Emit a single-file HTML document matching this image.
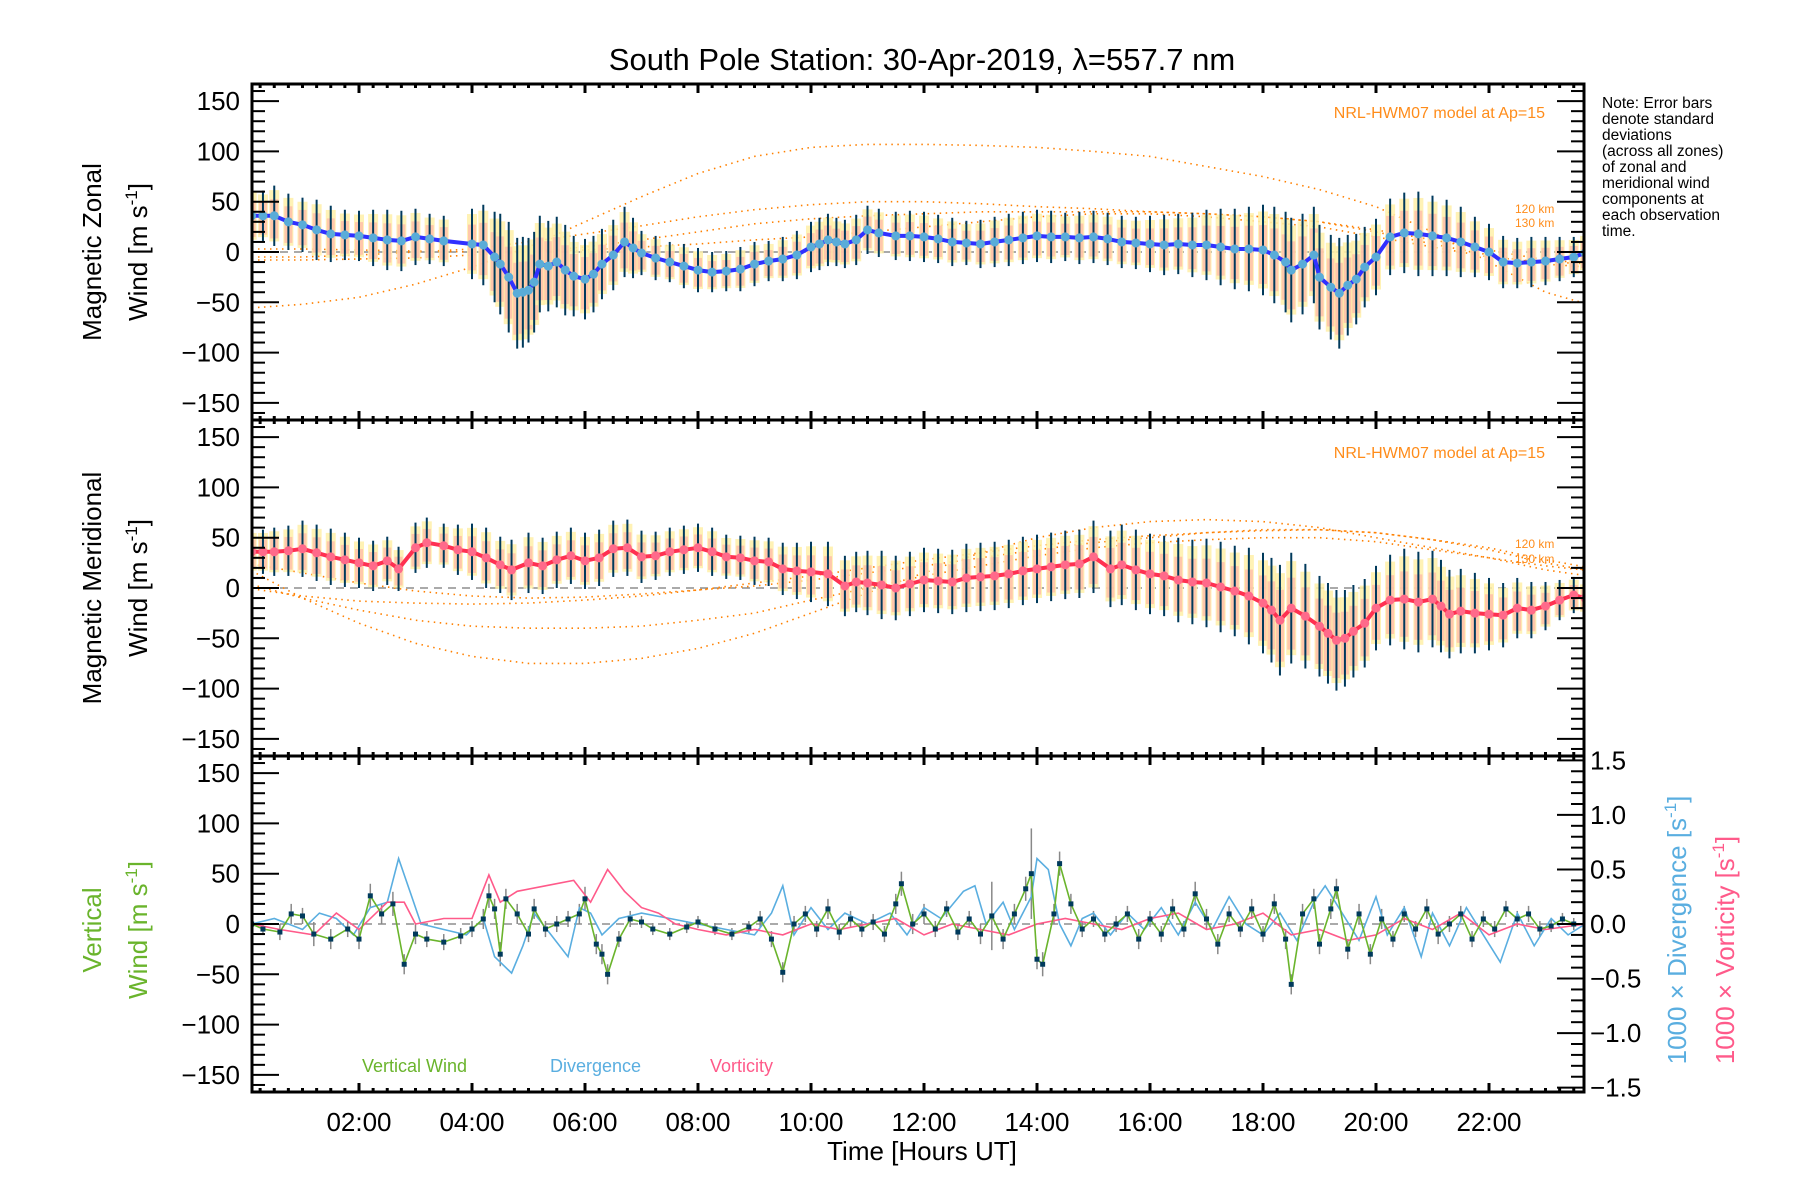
<!DOCTYPE html>
<html><head><meta charset="utf-8"><title>South Pole Station winds</title>
<style>
html,body{margin:0;padding:0;background:#fff;}
svg{display:block;font-family:"Liberation Sans","DejaVu Sans",sans-serif;}
</style></head>
<body>
<svg id="chart" width="1800" height="1200" viewBox="0 0 1800 1200" xmlns="http://www.w3.org/2000/svg">
<rect x="0" y="0" width="1800" height="1200" fill="#fff"/>
<text x="922" y="70" font-size="31" text-anchor="middle">South Pole Station: 30-Apr-2019, λ=557.7 nm</text>
<g id="layer"></g>
<g font-size="15.5" fill="#000">
<text x="1602" y="108">Note: Error bars</text>
<text x="1602" y="124">denote standard</text>
<text x="1602" y="140">deviations</text>
<text x="1602" y="156">(across all zones)</text>
<text x="1602" y="172">of zonal and</text>
<text x="1602" y="188">meridional wind</text>
<text x="1602" y="204">components at</text>
<text x="1602" y="220">each observation</text>
<text x="1602" y="236">time.</text>
</g>
</svg>
<script>
// ---------- data ----------
const xTickLabels = ["02:00","04:00","06:00","08:00","10:00","12:00","14:00","16:00","18:00","20:00","22:00"];
const xTickHours = [2,4,6,8,10,12,14,16,18,20,22];
const yTickLabels = [150,100,50,0,-50,-100,-150];
const rTickLabels = [1.5,1.0,0.5,0.0,-0.5,-1.0,-1.5];

const zonalTimes = [0.1,0.3,0.5,0.75,1,1.25,1.5,1.75,2,2.25,2.5,2.75,3,3.25,3.5,4,4.2,4.4,4.5,4.65,4.8,4.9,5.0,5.1,5.2,5.35,5.5,5.65,5.8,6.0,6.15,6.3,6.5,6.7,6.85,7,7.25,7.5,7.75,8,8.25,8.5,8.75,9,9.25,9.5,9.75,10,10.15,10.3,10.45,10.6,10.8,11,11.2,11.5,11.75,12,12.25,12.5,12.75,13,13.25,13.5,13.75,14,14.25,14.5,14.75,15,15.25,15.5,15.75,16,16.25,16.5,16.75,17,17.25,17.5,17.75,18,18.2,18.4,18.5,18.7,18.9,19,19.2,19.35,19.5,19.65,19.8,20,20.25,20.5,20.75,21,21.25,21.5,21.75,22,22.25,22.5,22.75,23,23.25,23.5,23.7];
const zonalMean = [36,36,36,30,27,22,18,17,16,14,12,11,15,13,11,8,7,-5,-12,-25,-41,-40,-38,-30,-12,-14,-10,-18,-24,-27,-22,-12,-3,10,4,-1,-6,-10,-14,-18,-20,-19,-17,-12,-9,-7,-3,5,8,12,10,8,12,22,19,16,16,15,13,10,9,8,10,12,14,16,15,15,14,15,13,10,9,8,7,8,7,7,5,3,3,2,-3,-10,-18,-12,-3,-25,-35,-41,-33,-27,-15,-5,15,19,18,16,14,10,5,0,-10,-11,-10,-9,-7,-5,-1];
const zonalStd = [28,25,30,28,27,30,28,25,25,28,30,30,28,25,25,35,40,45,50,55,55,55,52,50,48,45,45,45,40,40,38,35,35,35,30,22,22,20,22,22,20,20,22,22,20,22,24,25,26,26,24,24,25,24,24,24,25,25,24,24,22,24,25,26,26,26,26,24,26,26,26,26,26,28,30,30,32,35,38,40,42,45,48,50,52,50,48,52,52,55,50,45,40,38,38,40,42,40,38,35,30,28,26,25,25,24,22,20,20,18];

const meridTimes = [0.1,0.3,0.5,0.75,1,1.25,1.5,1.75,2,2.25,2.5,2.7,3,3.2,3.5,3.75,4,4.25,4.5,4.7,5,5.25,5.5,5.75,6,6.25,6.5,6.75,7,7.25,7.5,7.75,8,8.25,8.5,8.75,9,9.25,9.5,9.75,10,10.3,10.6,10.8,11,11.25,11.5,11.75,12,12.25,12.5,12.75,13,13.25,13.5,13.75,14,14.25,14.5,14.75,15,15.3,15.5,15.75,16,16.25,16.5,16.75,17,17.25,17.5,17.75,18,18.15,18.3,18.5,18.75,19,19.15,19.3,19.45,19.6,19.8,20,20.25,20.5,20.75,21,21.15,21.3,21.5,21.75,22,22.25,22.5,22.75,23,23.25,23.5,23.7];
const meridMean = [36,36,36,37,39,35,31,28,25,22,27,19,40,45,42,38,36,30,23,18,25,22,28,32,27,30,39,40,31,32,36,38,40,36,31,30,27,26,19,17,16,14,2,6,5,3,0,4,8,7,6,10,11,12,14,17,19,21,23,24,31,19,23,18,14,12,8,6,5,1,-3,-8,-15,-22,-32,-20,-28,-38,-45,-52,-50,-43,-35,-20,-12,-11,-14,-11,-18,-26,-23,-25,-26,-27,-20,-22,-18,-12,-7,-10,-11];
const meridStd = [22,22,24,25,28,28,28,27,25,25,24,22,25,25,22,25,28,30,28,30,30,28,28,28,28,28,28,28,26,24,24,24,24,24,22,22,24,24,26,28,30,32,30,30,32,34,32,32,32,32,32,34,34,34,34,34,34,34,34,34,36,38,40,40,40,40,42,42,44,45,45,48,50,52,55,55,52,50,50,50,48,46,44,42,45,50,50,48,46,44,42,40,36,32,30,28,24,20,18,16,14];

const vertTimes = [0.1,0.3,0.6,0.8,1.0,1.2,1.5,1.8,2.0,2.2,2.4,2.6,2.8,3.0,3.2,3.5,3.8,4.0,4.2,4.3,4.4,4.5,4.6,4.8,5.0,5.1,5.3,5.5,5.7,5.9,6.0,6.2,6.3,6.4,6.6,6.8,7.0,7.2,7.5,7.8,8.0,8.3,8.6,8.9,9.1,9.3,9.5,9.7,9.9,10.1,10.3,10.5,10.7,10.9,11.1,11.3,11.5,11.6,11.8,12.0,12.2,12.4,12.6,12.8,13.0,13.2,13.4,13.6,13.8,13.9,14.0,14.1,14.3,14.4,14.6,14.8,15.0,15.2,15.4,15.6,15.8,16.0,16.2,16.4,16.6,16.8,17.0,17.2,17.4,17.6,17.8,18.0,18.2,18.4,18.5,18.7,18.9,19.0,19.2,19.3,19.5,19.7,19.9,20.1,20.3,20.5,20.7,20.9,21.1,21.3,21.5,21.7,21.9,22.1,22.3,22.5,22.7,22.9,23.1,23.3,23.5,23.7];
const vertWind = [0,-5,-8,10,8,-10,-15,-5,-15,28,10,20,-40,-10,-15,-18,-12,-5,5,28,15,-30,25,10,-10,15,-5,0,5,10,25,-20,-30,-50,-15,5,2,-5,-10,-3,2,-5,-10,-3,5,-15,-48,0,10,-5,15,-8,5,-5,2,-10,20,40,0,10,-5,15,-8,5,-10,8,-15,10,35,50,-35,-40,10,60,20,-5,5,-10,0,10,-15,5,-10,15,-5,30,5,-20,10,-5,15,-10,20,-15,-60,10,25,-20,15,35,-25,10,-30,5,-15,10,-5,15,-10,0,10,-15,5,-5,15,5,10,-5,-2,5,0,0];
const vertErr = [6,6,8,10,8,12,10,8,10,12,10,12,10,10,8,8,8,8,10,12,10,12,10,10,8,10,8,8,8,10,12,10,10,10,8,8,6,6,6,6,6,6,6,6,8,8,10,8,8,8,10,8,8,8,8,8,10,12,10,10,8,8,8,8,10,34,10,10,12,45,10,12,10,12,10,8,8,8,8,8,10,8,8,10,8,12,10,10,8,8,10,8,10,10,10,10,10,10,10,10,10,10,10,10,8,8,8,10,10,8,8,8,8,8,8,8,8,8,6,6,6,6];

const divTimes = [0.1,0.5,1.0,1.3,1.6,1.9,2.2,2.5,2.7,2.9,3.1,3.5,3.9,4.2,4.4,4.7,4.9,5.1,5.4,5.7,5.9,6.1,6.3,6.6,7.0,7.5,8.0,8.5,9.0,9.3,9.5,9.7,10.0,10.3,10.6,11.0,11.4,11.7,12.0,12.3,12.7,12.9,13.1,13.4,13.6,13.9,14.0,14.2,14.4,14.6,14.8,15.0,15.3,15.6,15.9,16.2,16.5,16.8,17.1,17.4,17.7,18.0,18.3,18.6,18.9,19.1,19.4,19.7,20.0,20.2,20.5,20.8,21.0,21.3,21.6,21.9,22.2,22.5,22.8,23.1,23.4,23.7];
const divergence = [0,0.05,-0.05,0.1,0.05,-0.1,0.15,0.2,0.6,0.3,0,-0.05,-0.1,0.05,-0.3,-0.45,-0.2,0.1,-0.1,-0.3,0.15,0.1,-0.1,0.05,0.1,0.05,0,-0.05,-0.1,0.1,0.35,-0.1,0.15,-0.05,0.1,0,0.1,-0.1,0.15,0.05,0.3,0.35,0,0.2,-0.05,0.25,0.6,0.5,0,-0.2,0.05,0.1,-0.1,0.1,-0.05,0.15,-0.1,0.2,-0.05,0.25,0,-0.1,0.1,-0.15,0.2,0.35,0.1,-0.15,0.25,-0.1,0.15,-0.3,0.1,-0.2,0.15,-0.1,-0.35,0.1,-0.2,0.05,-0.1,0];

const vortTimes = [0.1,0.6,1.2,1.6,2.0,2.5,2.8,3.0,3.5,4.0,4.3,4.5,4.8,5.3,5.8,6.1,6.4,6.7,7.0,7.3,7.6,8.0,8.5,9.0,9.5,10.0,10.5,11.0,11.5,12.0,12.5,13.0,13.5,14.0,14.5,15.0,15.5,16.0,16.5,17.0,17.5,18.0,18.5,19.0,19.5,20.0,20.5,21.0,21.5,22.0,22.5,23.0,23.7];
const vorticity = [0,-0.05,-0.1,0.1,-0.05,0.2,0.2,0,0.05,0.05,0.45,0.2,0.3,0.35,0.4,0.2,0.5,0.3,0.15,0.1,0,-0.05,-0.1,-0.05,-0.1,0,-0.05,0,0.05,-0.1,0,-0.05,-0.1,0,0.05,0,-0.05,0.05,0.1,-0.05,0,0.1,-0.1,-0.05,-0.15,-0.1,0.05,-0.05,0.1,-0.1,0,-0.05,0];

// HWM07 model curves (hourly)
const modelHours = [0,1,2,3,4,5,6,7,8,9,10,11,12,13,14,15,16,17,18,19,20,21,22,23,24];
const zonalModelA = [-56,-52,-45,-32,-15,5,30,55,78,95,104,107,107,106,104,100,95,85,75,62,45,20,-10,-40,-56];
const zonalModelB = [-5,-5,-3,0,3,10,18,26,35,42,47,50,50,48,45,43,40,38,35,30,22,12,2,-8,-12];
const zonalModelC = [-8,-8,-7,-6,-3,0,5,12,20,28,33,36,38,40,40,40,40,38,35,30,20,8,-3,-12,-16];
const zonalModelD = [3,3,2,1,0,0,2,5,8,12,15,20,25,30,35,38,38,35,30,25,15,5,-5,-10,-12];
const meridModelA = [20,-10,-35,-55,-68,-75,-75,-70,-60,-45,-25,-5,15,35,50,60,66,68,66,60,50,40,30,18,10];
const meridModelB = [5,-10,-22,-32,-38,-40,-40,-38,-32,-25,-12,0,12,22,32,40,45,48,50,50,46,38,30,22,16];
const meridModelC = [0,-8,-13,-15,-16,-15,-12,-8,-2,5,12,20,28,35,42,48,52,55,58,58,55,48,40,28,18];
const meridModelD = [25,15,5,-3,-8,-10,-9,-6,-2,2,8,15,22,30,38,45,50,55,57,58,55,48,38,25,15];

// ---------- geometry ----------
const X0 = 252, X1 = 1584;
const HPX = 56.5, H0 = 246;
function xs(h){ return H0 + h*HPX; }
const panels = [{top:84,bot:420},{top:420,bot:756},{top:756,bot:1092}];
function ysFor(p){ const mid=(p.top+p.bot)/2, k=(p.bot-p.top)/334; return v => mid - v*k; }
function yrFor(p){ const mid=(p.top+p.bot)/2, k=(p.bot-p.top)/3.08; return v => mid - v*k; }

const NS = "http://www.w3.org/2000/svg";
const layer = document.getElementById('layer');
function el(tag, attrs, parent){ const e=document.createElementNS(NS,tag); for(const k in attrs) e.setAttribute(k,attrs[k]); (parent||layer).appendChild(e); return e; }
function pathFrom(ts, vs, y){ return ts.map((t,i)=>(i?'L':'M')+xs(t).toFixed(1)+' '+y(vs[i]).toFixed(1)).join(' '); }

const defs = el('defs',{});
panels.forEach((p,i)=>{ const c=el('clipPath',{id:'clip'+i},defs); el('rect',{x:X0,y:p.top,width:X1-X0,height:p.bot-p.top},c); });

function modelCurves(g, y, arrs){
  arrs.forEach((arr,i)=>{
    const m = el('path',{d:pathFrom(modelHours,arr,y),fill:'none',stroke:'#ff8000','stroke-width':1.6,'stroke-dasharray':'1.5 4.5'},g);
    
    
  });
}
function zeroLine(g,y){
  const z = el('line',{x1:X0,x2:X1,y1:y(0),y2:y(0),stroke:'#777','stroke-width':1.3,'stroke-dasharray':'8 6'},g);
  
  
}
function windPanel(idx, times, mean, std, lineColor, dotColor, models){
  const p = panels[idx], y = ysFor(p);
  const g = el('g',{'clip-path':'url(#clip'+idx+')'});
  
  
  zeroLine(g,y);
  modelCurves(g,y,models);
  times.forEach((t,i)=>{
    const x=xs(t);
    const b1 = el('rect',{x:x-5,y:y(mean[i]+std[i]*0.85),width:10,height:y(mean[i]-std[i]*0.85)-y(mean[i]+std[i]*0.85),fill:'#fff0a8',opacity:0.85},g);
    
    
    const b2 = el('rect',{x:x-4,y:y(mean[i]+std[i]*0.55),width:8,height:y(mean[i]-std[i]*0.75)-y(mean[i]+std[i]*0.55),fill:'#ffb8a8',opacity:0.75},g);
    
    
  });
  times.forEach((t,i)=>{
    const e = el('line',{x1:xs(t),x2:xs(t),y1:y(mean[i]+std[i]),y2:y(mean[i]-std[i]),stroke:'#003a5c','stroke-width':2},g);
    
    
  });
  const ln = el('path',{d:pathFrom(times,mean,y),fill:'none',stroke:lineColor,'stroke-width':4,'stroke-linejoin':'round'},g);
  
  
  times.forEach((t,i)=>{
    const c = el('circle',{cx:xs(t),cy:y(mean[i]),r:4.5,fill:dotColor},g);
    
    
  });
}
windPanel(0, zonalTimes, zonalMean, zonalStd, '#3030ff', '#5aacd8', [zonalModelA,zonalModelB,zonalModelC,zonalModelD]);
windPanel(1, meridTimes, meridMean, meridStd, '#ff3050', '#ff6a8a', [meridModelA,meridModelB,meridModelC,meridModelD]);

(function(){
  const p=panels[2], y=ysFor(p), yr=yrFor(p);
  const g = el('g',{'clip-path':'url(#clip2)'});
  
  
  zeroLine(g,y);
  vertTimes.forEach((t,i)=>{
    const e = el('line',{x1:xs(t),x2:xs(t),y1:y(vertWind[i]+vertErr[i]),y2:y(vertWind[i]-vertErr[i]),stroke:'#888','stroke-width':1.5},g);
    
    
  });
  const dv = el('path',{d:pathFrom(divTimes,divergence,yr),fill:'none',stroke:'#5aaee0','stroke-width':1.6},g);
  
  
  const vo = el('path',{d:pathFrom(vortTimes,vorticity,yr),fill:'none',stroke:'#ff5a8a','stroke-width':1.6},g);
  
  
  const vw = el('path',{d:pathFrom(vertTimes,vertWind,y),fill:'none',stroke:'#6ab42c','stroke-width':1.6},g);
  
  
  vertTimes.forEach((t,i)=>{
    const r = el('rect',{x:xs(t)-2.5,y:y(vertWind[i])-2.5,width:5,height:5,fill:'#003a5c'},g);
    
    
  });
})();

panels.forEach((p,idx)=>{
  const y = ysFor(p);
  const g = el('g',{});
  
  
  el('rect',{x:X0,y:p.top,width:X1-X0,height:p.bot-p.top,fill:'none',stroke:'#000','stroke-width':3},g);
  for(let v=-160; v<=160; v+=10){
    const major = v%50===0, yy=y(v), L = major?27:13;
    el('line',{x1:X0,x2:X0+L,y1:yy,y2:yy,stroke:'#000','stroke-width':2},g);
    if(idx<2) el('line',{x1:X1,x2:X1-L,y1:yy,y2:yy,stroke:'#000','stroke-width':2},g);
  }
  yTickLabels.forEach(v=>{
    const t = el('text',{x:X0-12,y:y(v)+9,'font-size':26,'text-anchor':'end'},g);
    t.textContent = v<0 ? '\u2212'+Math.abs(v) : String(v);
    
    
  });
  for(let m=1; m<=94; m++){
    const h=m*0.25, xx=xs(h);
    if(xx<=X0+2||xx>=X1-2) continue;
    const major = m%8===0, L = major?9:4;
    el('line',{x1:xx,x2:xx,y1:p.bot,y2:p.bot-L,stroke:'#000','stroke-width':3},g);
    el('line',{x1:xx,x2:xx,y1:p.top,y2:p.top+L,stroke:'#000','stroke-width':3},g);
  }
});
(function(){
  const p=panels[2], yr=yrFor(p);
  const g = el('g',{});
  
  
  for(let v=-15; v<=15; v+=1){
    const yy=yr(v/10), major=v%5===0, L=major?27:13;
    el('line',{x1:X1,x2:X1-L,y1:yy,y2:yy,stroke:'#000','stroke-width':2},g);
  }
  rTickLabels.forEach(v=>{
    const t = el('text',{x:X1+6,y:yr(v)+9,'font-size':26},g);
    t.textContent = v<0 ? '\u2212'+Math.abs(v).toFixed(1) : v.toFixed(1);
    
    
  });
})();
xTickHours.forEach((h,i)=>{
  const t = el('text',{x:xs(h),y:1131,'font-size':26,'text-anchor':'middle'});
  t.textContent = xTickLabels[i];
  
  
});
</script>
<script>
(function(){
const svg=document.getElementById('chart');
svg.insertAdjacentHTML('beforeend',`
<text x="922" y="1160" font-size="26" text-anchor="middle">Time [Hours UT]</text>
<text transform="translate(101,252) rotate(-90)" font-size="26" text-anchor="middle">Magnetic Zonal</text>
<text transform="translate(147,252) rotate(-90)" font-size="26" text-anchor="middle">Wind [m s<tspan dy="-10" font-size="17">-1</tspan><tspan dy="10">]</tspan></text>
<text transform="translate(101,588) rotate(-90)" font-size="26" text-anchor="middle">Magnetic Meridional</text>
<text transform="translate(147,588) rotate(-90)" font-size="26" text-anchor="middle">Wind [m s<tspan dy="-10" font-size="17">-1</tspan><tspan dy="10">]</tspan></text>
<text transform="translate(101,930) rotate(-90)" font-size="26" text-anchor="middle" fill="#6ab42c">Vertical</text>
<text transform="translate(147,930) rotate(-90)" font-size="26" text-anchor="middle" fill="#6ab42c">Wind [m s<tspan dy="-10" font-size="17">-1</tspan><tspan dy="10">]</tspan></text>
<text transform="translate(1686,930) rotate(-90)" font-size="26" text-anchor="middle" fill="#5aaee0">1000 × Divergence [s<tspan dy="-10" font-size="17">-1</tspan><tspan dy="10">]</tspan></text>
<text transform="translate(1734,950) rotate(-90)" font-size="26" text-anchor="middle" fill="#ff5a8a">1000 × Vorticity [s<tspan dy="-10" font-size="17">-1</tspan><tspan dy="10">]</tspan></text>
<text x="1545" y="118" font-size="16" text-anchor="end" fill="#ff8c1a">NRL-HWM07 model at Ap=15</text>
<text x="1545" y="458" font-size="16" text-anchor="end" fill="#ff8c1a">NRL-HWM07 model at Ap=15</text>
<text x="1515" y="548" font-size="12" fill="#ff8c1a">120 km</text>
<text x="1515" y="563" font-size="12" fill="#ff8c1a">130 km</text>
<text x="1515" y="213" font-size="12" fill="#ff8c1a">120 km</text>
<text x="1515" y="227" font-size="12" fill="#ff8c1a">130 km</text>
<text x="362" y="1072" font-size="18" fill="#6ab42c">Vertical Wind</text>
<text x="550" y="1072" font-size="18" fill="#5aaee0">Divergence</text>
<text x="710" y="1072" font-size="18" fill="#ff5a8a">Vorticity</text>
`);
})();
</script>
</body></html>
